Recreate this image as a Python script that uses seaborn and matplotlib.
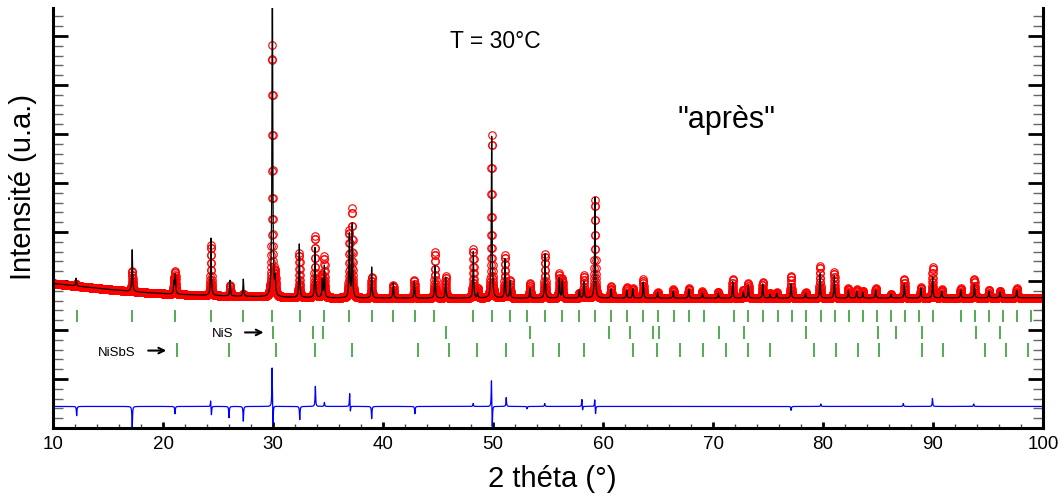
import numpy as np
import pandas as pd
import seaborn as sns
import matplotlib
matplotlib.use('Agg')
import matplotlib.pyplot as plt
from matplotlib.ticker import MultipleLocator

sns.set_style("ticks")
plt.rcParams['font.family'] = ['Liberation Sans', 'DejaVu Sans']
plt.rcParams['text.color'] = 'black'
plt.rcParams['axes.labelcolor'] = 'black'
plt.rcParams['xtick.color'] = 'black'
plt.rcParams['ytick.color'] = 'black'

# ------------------------------- donnees (unites arbitraires)

# fond continu
fond_x = [10, 12, 15, 18, 21, 25, 30, 35, 45, 60, 80, 100]
fond_y = [2.95, 2.90, 2.83, 2.77, 2.73, 2.70, 2.67, 2.655, 2.65, 2.65, 2.65, 2.66]

# pics : position (2 theta), hauteur observee, hauteur calculee (au-dessus du fond)
pics_pos = [12.1, 17.2, 21.0, 21.12, 24.36, 26.1, 27.3, 29.94, 30.2, 32.39,
            33.82, 34.48, 34.67, 36.94, 37.2, 38.97, 40.94, 42.85, 44.73, 45.7,
            48.21, 48.6, 49.88, 51.09, 51.55, 53.36, 54.73, 56.03, 56.3, 57.85,
            58.27, 59.27, 60.73, 62.15, 62.7, 63.66, 64.97, 66.39, 67.8, 69.03,
            70.48, 71.79, 72.76, 73.21, 74.52, 75.18, 75.79, 77.09, 78.42, 79.73,
            81.03, 82.3, 83.06, 83.61, 84.79, 86.18, 87.39, 88.9, 89.97, 90.79,
            92.52, 93.76, 95.09, 96.09, 97.61]
pics_obs = [0.05, 0.42, 0.30, 0.44, 1.02, 0.22, 0.05, 5.14, 0.45, 0.90,
            1.26, 0.45, 0.82, 1.35, 1.80, 0.43, 0.27, 0.37, 0.94, 0.44,
            1.00, 0.20, 3.32, 0.87, 0.36, 0.31, 0.90, 0.50, 0.39, 0.10,
            0.46, 2.00, 0.24, 0.22, 0.20, 0.38, 0.12, 0.18, 0.20, 0.14,
            0.13, 0.39, 0.17, 0.31, 0.33, 0.10, 0.12, 0.46, 0.12, 0.65,
            0.53, 0.20, 0.18, 0.15, 0.20, 0.08, 0.39, 0.22, 0.63, 0.17,
            0.20, 0.39, 0.16, 0.14, 0.19]
pics_calc = [0.16, 0.85, 0.25, 0.40, 1.17, 0.32, 0.35, 7.00, 0.32, 1.09,
             1.02, 0.36, 0.65, 1.30, 1.50, 0.63, 0.31, 0.34, 0.67, 0.43,
             0.95, 0.10, 3.30, 0.80, 0.36, 0.20, 0.90, 0.41, 0.36, 0.16,
             0.34, 2.06, 0.18, 0.16, 0.20, 0.33, 0.12, 0.14, 0.18, 0.10,
             0.10, 0.34, 0.12, 0.26, 0.29, 0.08, 0.10, 0.29, 0.10, 0.50,
             0.46, 0.15, 0.14, 0.12, 0.16, 0.08, 0.29, 0.20, 0.43, 0.14,
             0.16, 0.27, 0.13, 0.12, 0.15]

# courbe difference : ligne de base et pointes
diff_base = 0.44
diff_pos = [12.15, 17.2, 21.09, 24.33, 24.40, 26.0, 27.3, 29.92, 30.0, 32.43,
            33.85, 34.67, 36.97, 37.03, 38.97, 42.9, 48.2, 49.86, 49.93, 51.2,
            53.1, 54.7, 58.08, 58.14, 59.25, 59.32, 77.1, 79.8, 87.3, 89.95, 93.7]
diff_amp = [-0.19, -0.45, -0.15, 0.14, -0.19, -0.23, -0.30, 0.84, -0.45, -0.27,
            0.41, 0.08, 0.29, -0.15, -0.25, -0.15, 0.06, 0.60, -0.50, 0.18,
            -0.05, 0.06, 0.16, -0.10, 0.16, -0.17, -0.08, 0.05, 0.06, 0.16, 0.05]

# positions de Bragg
bragg_1 = [12.15, 17.21, 21.09, 24.36, 27.3, 29.94, 32.43, 34.67, 36.94, 38.97,
           40.94, 42.91, 44.66, 48.21, 49.94, 51.55, 53.12, 54.73, 56.3, 57.79,
           59.27, 60.75, 62.21, 63.61, 65.03, 66.43, 67.85, 69.18, 71.88, 73.21,
           74.57, 75.88, 77.18, 78.48, 79.79, 81.06, 82.34, 83.61, 84.88, 86.15,
           87.43, 88.7, 89.97, 92.55, 93.82, 95.09, 96.34, 97.61, 98.88]
bragg_nis = [30.03, 33.61, 34.57, 45.7, 53.36, 60.57, 62.48, 64.52, 65.06, 70.55,
             72.79, 78.48, 84.97, 86.61, 88.97, 93.91, 96.09]
bragg_nisbs = [21.24, 26.03, 30.24, 33.85, 37.18, 43.21, 45.97, 48.57, 51.15, 53.66,
               55.97, 58.3, 62.76, 64.88, 67.03, 69.12, 71.21, 73.21, 75.21, 79.18,
               81.21, 83.15, 85.09, 88.97, 90.94, 94.75, 96.64, 98.64]

# ------------------------------- profils

pas = 0.01
deux_theta = np.arange(10, 100 + pas / 2, pas)


def profil(pos, amp, w):
    y = np.zeros_like(deux_theta)
    for p, a in zip(pos, amp):
        y += a / (1 + ((deux_theta - p) / w) ** 2)
    return y


fond = np.interp(deux_theta, fond_x, fond_y)
df = pd.DataFrame({
    '2theta': deux_theta,
    'obs': fond + profil(pics_pos, pics_obs, 0.04),
    'calc': fond + profil(pics_pos, pics_calc, 0.04),
    'diff': diff_base + profil(diff_pos, diff_amp, 0.03),
})

# ------------------------------- figure

fig = plt.figure(figsize=(10.6, 4.95), dpi=100)
ax = fig.add_axes([53 / 1060, 67 / 495, 990 / 1060, 420 / 495])

sns.lineplot(data=df, x='2theta', y='obs', ax=ax, marker='o', linestyle='',
             mfc='none', mec='red', ms=5.4, mew=0.8, estimator=None, sort=False)
sns.lineplot(data=df, x='2theta', y='calc', ax=ax, color='black', lw=0.9,
             estimator=None, sort=False)
sns.lineplot(data=df, x='2theta', y='diff', ax=ax, color='blue', lw=0.9,
             estimator=None, sort=False)

vert = '#35a035'
ax.vlines(bragg_1, 2.16, 2.41, color=vert, lw=1.2)
ax.vlines(bragg_nis, 1.82, 2.08, color=vert, lw=1.2)
ax.vlines(bragg_nisbs, 1.45, 1.73, color=vert, lw=1.2)

ax.text(24.43, 1.85, 'NiS', fontsize=9.5, ha='left', va='baseline')
ax.annotate('', xy=(29.4, 1.95), xytext=(27.2, 1.95),
            arrowprops=dict(arrowstyle='->', lw=1.5, color='black'))
ax.text(14.12, 1.475, 'NiSbS', fontsize=9.5, ha='left', va='baseline')
ax.annotate('', xy=(20.55, 1.58), xytext=(18.4, 1.58),
            arrowprops=dict(arrowstyle='->', lw=1.5, color='black'))

ax.text(46.09, 7.755, 'T = 30°C', fontsize=16.5, ha='left', va='baseline')
ax.text(66.73, 6.12, '"après"', fontsize=22, ha='left', va='baseline')

ax.set_xlim(10, 100)
ax.set_ylim(0, 8.57)
ax.xaxis.set_major_locator(MultipleLocator(10))
ax.xaxis.set_minor_locator(MultipleLocator(2))
ax.yaxis.set_major_locator(MultipleLocator(1))
ax.yaxis.set_minor_locator(MultipleLocator(0.2))

ax.tick_params(axis='x', which='major', direction='in', length=4.5, width=2,
               labelsize=13.5, pad=6, top=False)
ax.tick_params(axis='x', which='minor', direction='in', length=3, width=1,
               color='#444444', top=False)
ax.tick_params(axis='y', which='major', direction='in', length=11, width=2,
               left=True, right=True, labelleft=False)
ax.tick_params(axis='y', which='minor', direction='in', length=7, width=1,
               color='#666666', left=True, right=True)

for cote in ['left', 'right', 'bottom']:
    ax.spines[cote].set_linewidth(2.2)
    ax.spines[cote].set_color('black')
ax.spines['top'].set_visible(False)

ax.set_xlabel('2 théta (°)', fontsize=21)
ax.set_ylabel('Intensité (u.a.)', fontsize=21)
ax.xaxis.set_label_coords(0.5045, -0.088)
ax.yaxis.set_label_coords(-0.016, 0.574)

fig.savefig('out.png', dpi=100)
